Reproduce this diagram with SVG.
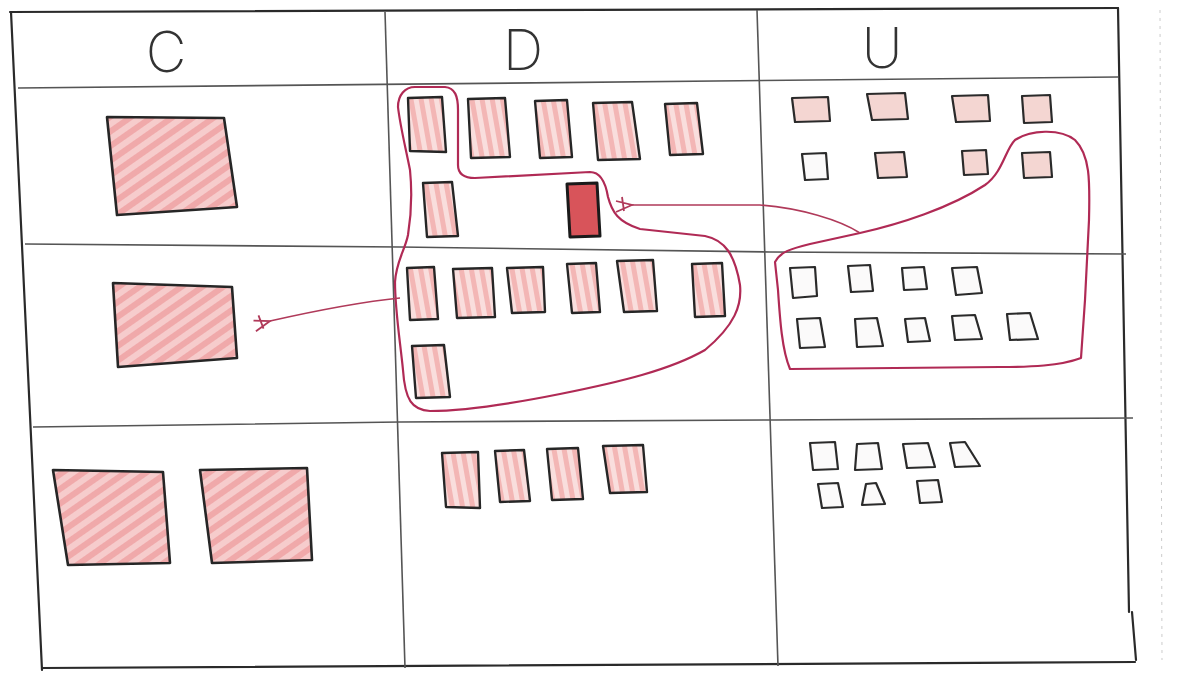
<svg xmlns="http://www.w3.org/2000/svg" width="1187" height="673" viewBox="0 0 1187 673">
<style>
.grid{fill:none;stroke:#2a2a2a;stroke-width:2.2;stroke-linecap:round}
.gridthin{fill:none;stroke:#555;stroke-width:1.6}
.big{fill:url(#hatch);stroke:#262626;stroke-width:2.6;stroke-linejoin:round}
.mid{fill:url(#hatch2);stroke:#262626;stroke-width:2.4;stroke-linejoin:round}
.sm{fill:#f4d6d2;stroke:#2a2a2a;stroke-width:2.2;stroke-linejoin:round}
.em{fill:#fbfafa;stroke:#2a2a2a;stroke-width:2.2;stroke-linejoin:round}
.dark{fill:#d8545a;stroke:#1a1a1a;stroke-width:3;stroke-linejoin:round}
.lasso{fill:none;stroke:#b02a55;stroke-width:2.2;stroke-linejoin:round}
.arr{fill:none;stroke:#b03a5a;stroke-width:1.6}
.hdr{font-family:Inter,"Liberation Sans",sans-serif;font-weight:200;font-size:56px;fill:#333;text-anchor:middle}
</style>
<defs>
<pattern id="hatch" patternUnits="userSpaceOnUse" width="12" height="12" patternTransform="rotate(-35)">
<rect width="12" height="12" fill="#f6cccc"/>
<rect y="0" width="12" height="6" fill="#f0a9aa"/>
</pattern>
<pattern id="hatch2" patternUnits="userSpaceOnUse" width="10" height="10" patternTransform="rotate(80)">
<rect width="10" height="10" fill="#f9dedd"/>
<rect y="0" width="10" height="5" fill="#f3b6b5"/>
</pattern>
<marker id="ah" viewBox="0 0 20 20" refX="2" refY="10" markerWidth="20" markerHeight="20" markerUnits="userSpaceOnUse" orient="auto">
<path d="M18,3 L2,10 L18,14 M10,4 L12,18" fill="none" stroke="#b03a5a" stroke-width="1.8"/>
</marker>
</defs>
<rect width="1187" height="673" fill="#fff"/>
<line x1="1160" y1="10" x2="1162" y2="660" stroke="#ccc" stroke-width="1" stroke-dasharray="3,5"/>
<g id="grid">
<path class="grid" d="M10,12 L1118,8"/>
<path class="grid" d="M11,12 L42,670"/>
<path class="grid" d="M42,668 L1135,662"/>
<path class="grid" d="M1118,8 L1129,612"/>
<path class="grid" d="M1132,612 L1136,660"/>
<path class="gridthin" d="M385,12 L405,668"/>
<path class="gridthin" d="M757,10 L778,666"/>
<path class="gridthin" d="M18,88 L1118,77"/>
<path class="gridthin" d="M25,244 L400,247 L770,252 L1126,254"/>
<path class="gridthin" d="M33,427 L400,422 L775,420 L1133,418"/>
</g>
<g id="headers">
<text class="hdr" x="166" y="72">C</text>
<text class="hdr" x="523" y="70">D</text>
<text class="hdr" x="882" y="68">U</text>
</g>
<g id="c-r1"><polygon class="big" points="107,117 224,118 237,207 117,215"/></g>
<g id="c-r2"><polygon class="big" points="113,283 232,287 237,358 118,367"/></g>
<g id="c-r3a"><polygon class="big" points="53,470 163,472 170,563 68,565"/></g>
<g id="c-r3b"><polygon class="big" points="200,470 307,468 312,560 212,563"/></g>
<g id="d-r1-1"><polygon class="mid" points="408,98 442,97 446,152 410,151"/></g>
<g id="d-r1-2"><polygon class="mid" points="468,99 505,98 510,157 471,158"/></g>
<g id="d-r1-3"><polygon class="mid" points="535,101 567,100 572,157 540,158"/></g>
<g id="d-r1-4"><polygon class="mid" points="593,103 632,102 640,159 598,160"/></g>
<g id="d-r1-5"><polygon class="mid" points="665,104 697,103 703,154 670,155"/></g>
<g id="d-r1-6"><polygon class="mid" points="423,183 452,182 458,236 427,237"/></g>
<g id="d-r1-7"><polygon class="dark" points="567,184 597,183 600,236 570,237"/></g>
<g id="d-r2-1"><polygon class="mid" points="407,268 434,267 438,319 410,320"/></g>
<g id="d-r2-2"><polygon class="mid" points="453,269 492,268 495,317 457,318"/></g>
<g id="d-r2-3"><polygon class="mid" points="507,268 543,267 545,312 512,313"/></g>
<g id="d-r2-4"><polygon class="mid" points="567,264 596,263 600,312 572,313"/></g>
<g id="d-r2-5"><polygon class="mid" points="617,261 653,260 657,311 624,312"/></g>
<g id="d-r2-6"><polygon class="mid" points="692,264 722,263 725,316 695,317"/></g>
<g id="d-r2-7"><polygon class="mid" points="412,346 444,345 450,397 416,398"/></g>
<g id="d-r3-1"><polygon class="mid" points="442,453 478,452 480,508 446,507"/></g>
<g id="d-r3-2"><polygon class="mid" points="495,451 524,450 530,501 500,502"/></g>
<g id="d-r3-3"><polygon class="mid" points="547,449 578,448 583,499 552,500"/></g>
<g id="d-r3-4"><polygon class="mid" points="603,446 643,445 647,492 610,493"/></g>
<g id="u-r1-1"><polygon class="sm" points="792,98 828,97 830,121 795,122"/></g>
<g id="u-r1-2"><polygon class="sm" points="867,94 905,93 908,119 872,120"/></g>
<g id="u-r1-3"><polygon class="sm" points="952,96 988,95 990,121 956,122"/></g>
<g id="u-r1-4"><polygon class="sm" points="1022,96 1050,95 1052,122 1024,123"/></g>
<g id="u-r1-5"><polygon class="em" points="802,154 826,153 828,179 805,180"/></g>
<g id="u-r1-6"><polygon class="sm" points="875,153 904,152 907,177 878,178"/></g>
<g id="u-r1-7"><polygon class="sm" points="962,151 986,150 988,174 964,175"/></g>
<g id="u-r1-8"><polygon class="sm" points="1022,153 1050,152 1052,177 1024,178"/></g>
<g id="u-r2-1"><polygon class="em" points="790,268 815,267 817,296 793,298"/></g>
<g id="u-r2-2"><polygon class="em" points="848,266 870,265 873,291 851,292"/></g>
<g id="u-r2-3"><polygon class="em" points="902,268 924,267 927,289 904,290"/></g>
<g id="u-r2-4"><polygon class="em" points="952,268 977,267 982,293 956,295"/></g>
<g id="u-r2-5"><polygon class="em" points="797,319 820,318 825,347 800,348"/></g>
<g id="u-r2-6"><polygon class="em" points="855,319 877,318 883,346 857,347"/></g>
<g id="u-r2-7"><polygon class="em" points="905,319 925,318 930,341 908,342"/></g>
<g id="u-r2-8"><polygon class="em" points="952,316 975,315 982,339 955,340"/></g>
<g id="u-r2-9"><polygon class="em" points="1007,314 1030,313 1038,339 1010,340"/></g>
<g id="u-r3-1"><polygon class="em" points="810,443 835,442 838,469 813,470"/></g>
<g id="u-r3-2"><polygon class="em" points="857,444 878,443 882,469 855,470"/></g>
<g id="u-r3-3"><polygon class="em" points="903,444 928,443 935,467 907,468"/></g>
<g id="u-r3-4"><polygon class="em" points="950,443 965,442 980,466 955,467"/></g>
<g id="u-r3-5"><polygon class="em" points="818,484 838,483 843,507 822,508"/></g>
<g id="u-r3-6"><polygon class="em" points="866,484 876,483 885,504 862,505"/></g>
<g id="u-r3-7"><polygon class="em" points="917,481 938,480 942,502 920,503"/></g>
<g id="connectors">
<path id="lasso-d" class="lasso" d="M398,107 C398,95 405,87 415,87 L445,87 C455,88 458,96 458,110 L458,165 C458,175 465,178 475,178 L590,172 C602,172 606,185 608,197 C612,212 618,222 640,229 L705,236 C725,240 735,255 740,285 C742,305 735,325 705,350 C670,370 620,382 560,394 C510,404 460,411 430,411 C412,410 405,400 403,370 C400,340 395,310 395,282 C396,262 405,250 408,235 C412,210 412,190 410,170 C405,145 400,125 398,107 Z"/>
<path id="lasso-u" class="lasso" d="M860,233 C900,224 950,208 985,185 C1003,172 1005,150 1015,140 C1030,130 1060,128 1075,140 C1090,155 1090,180 1089,220 L1085,300 L1081,358 C1060,366 1030,367 1000,367 L790,369 C782,350 780,320 778,290 L775,262 C780,252 790,249 810,244 Z"/>
<path id="arrow-u-d" class="arr" d="M860,233 C840,220 800,208 760,205 L632,205" marker-end="url(#ah)"/>
<path id="arrow-d-c" class="arr" d="M400,298 C360,302 310,312 270,321" marker-end="url(#ah)"/>
</g>
</svg>
